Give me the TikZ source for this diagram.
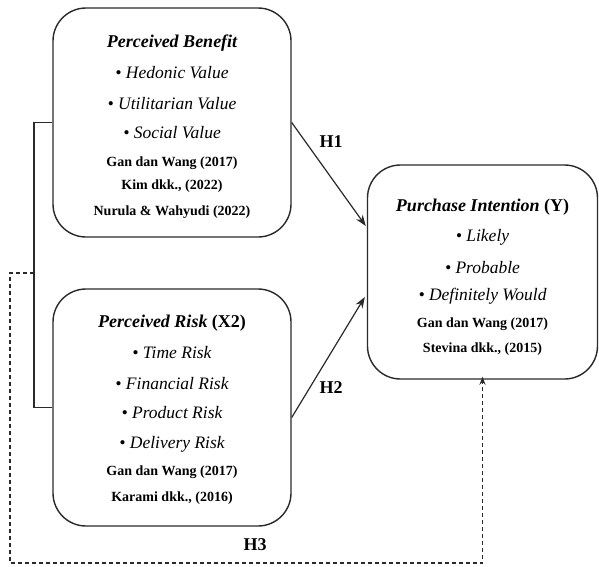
\documentclass[tikz,border=0pt]{standalone}
\usepackage{fontspec}
\setmainfont{Liberation Serif}
\usetikzlibrary{arrows.meta}
\definecolor{ln}{HTML}{2A2A2A}
\tikzset{
  box/.style={draw=ln, line width=1.4pt, rounded corners=33pt, inner sep=0pt},
  ttl/.style={font=\fontsize{18}{20}\selectfont\bfseries\itshape, inner sep=0pt},
  itm/.style={font=\fontsize{17.5}{20}\selectfont\itshape, inner sep=0pt},
  refx/.style={font=\fontsize{14}{16}\selectfont\bfseries, inner sep=0pt},
  hyp/.style={font=\fontsize{18}{20}\selectfont\bfseries, inner sep=0pt},
  conn/.style={draw=ln, line width=1.2pt},
  arr/.style={conn, -{Stealth[length=11pt,width=8pt]}},
  darr/.style={conn, dash pattern=on 4pt off 3pt, -{Stealth[length=8pt,width=6pt]}}
}
\begin{document}
\begin{tikzpicture}[x=1pt,y=-1pt]
\useasboundingbox (0,0) rectangle (599,566);
\fill[white] (0,0) rectangle (599,566);
% boxes
\node[box, minimum width=238pt, minimum height=229pt] (b1) at (172,122.5) {};
\node[box, minimum width=238pt, minimum height=237pt] (b2) at (172,407.5) {};
\node[box, minimum width=230pt, minimum height=214pt] (b3) at (482.5,272) {};
% box 1 text
\node[ttl]  (b1a) at (172,43)  {Perceived Benefit};
\node[itm]  (b1b) at (172,73)  {\textbullet\ Hedonic Value};
\node[itm]  (b1c) at (172,104) {\textbullet\ Utilitarian Value};
\node[itm]  (b1d) at (172,133) {\textbullet\ Social Value};
\node[refx] (b1e) at (172,163) {Gan dan Wang (2017)};
\node[refx] (b1f) at (172,186) {Kim dkk., (2022)};
\node[refx] (b1g) at (172,212) {Nurula \& Wahyudi (2022)};
% box 2 text
\node[ttl]  (b2a) at (172,323) {Perceived Risk \upshape(X2)};
\node[itm]  (b2b) at (172,353) {\textbullet\ Time Risk};
\node[itm]  (b2c) at (172,384) {\textbullet\ Financial Risk};
\node[itm]  (b2d) at (172,413) {\textbullet\ Product Risk};
\node[itm]  (b2e) at (172,444) {\textbullet\ Delivery Risk};
\node[refx] (b2f) at (172,472) {Gan dan Wang (2017)};
\node[refx] (b2g) at (172,498) {Karami dkk., (2016)};
% box 3 text
\node[ttl]  (b3a) at (482.5,207) {Purchase Intention \upshape(Y)};
\node[itm]  (b3b) at (482.5,237) {\textbullet\ Likely};
\node[itm]  (b3c) at (482.5,268) {\textbullet\ Probable};
\node[itm]  (b3d) at (482.5,296) {\textbullet\ Definitely Would};
\node[refx] (b3e) at (482.5,324) {Gan dan Wang (2017)};
\node[refx] (b3f) at (482.5,349) {Stevina dkk., (2015)};
% connectors
\draw[arr] (b1.east) -- ([yshift=46pt,xshift=-1pt]b3.west);
\draw[arr] ([yshift=-10pt]b2.east) -- ([yshift=-25pt,xshift=-2pt]b3.west);
\coordinate (brk) at (34,273);
\coordinate (d1) at (10,273);
\coordinate (d2) at (10,563);
\draw[conn] (b1.west) -| (brk) |- (b2.west);
\draw[darr] (brk) -- (d1) -- (d2) -| ([yshift=3pt]b3.south);
% labels
\node[hyp] (h1) at (331,142) {H1};
\node[hyp] (h2) at (331,388) {H2};
\node[hyp] (h3) at (255,545) {H3};
\end{tikzpicture}
\end{document}
